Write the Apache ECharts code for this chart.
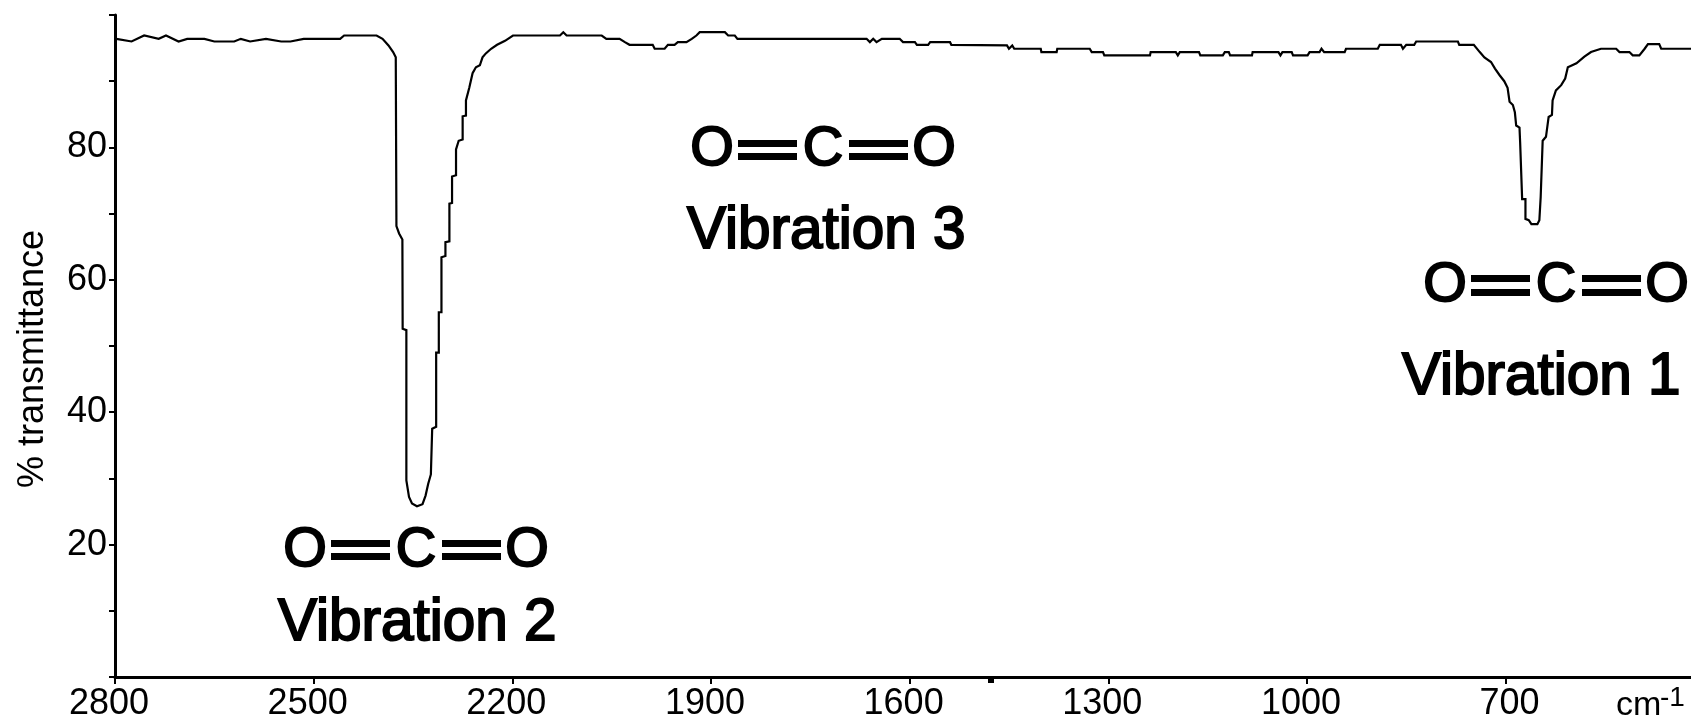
<!DOCTYPE html>
<html>
<head>
<meta charset="utf-8">
<style>
  html, body { margin: 0; padding: 0; background: #fff; }
  #main { width: 1691px; height: 718px; }
</style>
<script src="https://cdn.jsdelivr.net/npm/echarts@6/dist/echarts.min.js"></script>
</head>
<body>
<div id="main"></div>
<script>
// spectrum, high wavenumber first
var wavenumber = [
  2798, 2775, 2756, 2734, 2723, 2704, 2691, 2665, 2650, 2620, 2610, 2596, 2572, 2549, 2535, 2515, 2460, 2454, 2405, 2396,
  2387, 2380, 2376, 2375, 2371, 2366, 2365.6, 2360, 2360, 2357, 2356, 2351.5, 2344, 2335.6, 2331, 2327, 2323, 2321, 2315, 2315,
  2311, 2311, 2307, 2307, 2301, 2301, 2295, 2295, 2291, 2291, 2285, 2285, 2281, 2275, 2275, 2270, 2270, 2265, 2260, 2255,
  2249, 2245, 2240, 2232, 2223, 2211, 2199, 2128, 2123, 2118, 2065, 2058, 2038, 2030, 2023, 1988, 1985, 1970, 1965, 1955,
  1950, 1937, 1929, 1922, 1917, 1879, 1874, 1864, 1860, 1665, 1660, 1655, 1650, 1642, 1615, 1610, 1592, 1589, 1572, 1569,
  1539, 1537, 1453, 1450, 1445, 1442, 1402, 1401, 1378, 1377, 1328, 1325, 1308, 1306, 1237, 1236, 1198, 1195, 1192, 1163,
  1161, 1127, 1124, 1118, 1116, 1083, 1082, 1043, 1040, 1037, 1023, 1021, 999, 996, 981, 978, 974, 943, 941, 893,
  890, 858, 855, 850, 838, 835, 772, 770, 748, 739, 732, 722, 716, 709, 702, 697, 694, 689, 686, 684,
  679, 678, 675, 675, 670, 670, 665, 661, 652, 649, 647, 644, 644, 639, 635, 630, 629, 624, 616, 610,
  606, 593, 581, 571, 556, 533, 528, 513, 508, 498, 490, 485, 468, 465, 420
];
var transmittance = [
  96.4, 96.0, 96.9, 96.4, 96.9, 96.0, 96.4, 96.4, 96.0, 96.0, 96.4, 96.0, 96.4, 96.0, 96.0, 96.4, 96.4, 96.9, 96.9, 96.4,
  95.4, 94.4, 93.6, 68.1, 67.0, 66.1, 52.6, 52.4, 29.7, 29.5, 27.2, 26.2, 25.8, 26.1, 27.4, 29.2, 30.6, 37.5, 37.8, 49.0,
  49.0, 55.1, 55.1, 63.4, 63.6, 65.7, 65.8, 71.5, 71.6, 75.6, 75.8, 79.7, 81.0, 81.2, 84.7, 84.8, 87.1, 89.0, 91.2, 92.1,
  92.4, 93.6, 94.2, 94.9, 95.5, 96.1, 96.9, 96.9, 97.4, 96.9, 96.9, 96.4, 96.4, 95.9, 95.5, 95.5, 94.9, 94.9, 95.5, 95.5,
  95.9, 95.9, 96.4, 96.9, 97.4, 97.4, 96.9, 96.9, 96.4, 96.4, 95.9, 96.4, 95.9, 96.4, 96.4, 95.9, 95.9, 95.5, 95.5, 95.9,
  95.9, 95.5, 95.4, 94.9, 95.4, 94.9, 94.9, 94.4, 94.4, 94.9, 94.9, 94.4, 94.4, 93.9, 93.9, 94.4, 94.4, 93.9, 94.4, 94.4,
  93.9, 93.9, 94.4, 94.4, 93.9, 93.9, 94.4, 94.4, 93.9, 94.4, 94.4, 93.9, 93.9, 94.4, 94.4, 94.9, 94.4, 94.4, 94.9, 94.9,
  95.5, 95.5, 94.9, 95.5, 95.5, 96.0, 96.0, 95.5, 95.5, 94.4, 93.6, 92.9, 91.9, 90.9, 90.0, 89.0, 86.9, 86.4, 85.3, 83.3,
  83.0, 80.7, 80.5, 72.2, 72.2, 69.2, 69.0, 68.4, 68.4, 69.0, 72.5, 72.6, 81.0, 81.6, 84.6, 84.9, 87.1, 88.6, 89.4, 90.4,
  92.1, 92.7, 93.7, 94.4, 94.9, 94.9, 94.4, 94.4, 93.9, 93.9, 94.9, 95.6, 95.6, 94.9, 94.9
];
var xTicks = [2800, 2500, 2200, 1900, 1600, 1300, 1000, 700];
var yLabels = [20, 40, 60, 80];
var vibrationNames = ['Vibration 1', 'Vibration 2', 'Vibration 3'];

var font = '"Liberation Sans", Arial, sans-serif';

var chart = echarts.init(document.getElementById('main'), null, { renderer: 'canvas' });

// O=C=O with a long double bond, the "=" glyph is too short for this
function molecule(cx, cy, barY1, barY2) {
  var items = [];
  [cx - 111, cx, cx + 111].forEach(function (x, i) {
    items.push({
      type: 'text',
      style: {
        text: i === 1 ? 'C' : 'O', x: x, y: cy, align: 'center', verticalAlign: 'middle',
        font: '56px ' + font, fill: '#000', stroke: '#000', lineWidth: 2
      }
    });
  });
  [cx - 85, cx + 26].forEach(function (x) {
    items.push({ type: 'rect', shape: { x: x, y: barY1, width: 59, height: 7 }, style: { fill: '#000' } });
    items.push({ type: 'rect', shape: { x: x, y: barY2, width: 59, height: 7 }, style: { fill: '#000' } });
  });
  return items;
}

function vibrationLabel(name, x, y) {
  return {
    type: 'text',
    style: {
      text: name, x: x, y: y, align: 'left', verticalAlign: 'middle',
      font: '58.5px ' + font, fill: '#000', stroke: '#000', lineWidth: 2
    }
  };
}

var data = wavenumber.map(function (w, i) { return [w, transmittance[i]]; });

chart.setOption({
  backgroundColor: '#fff',
  animation: false,
  grid: { left: 115, right: 0, top: 15, bottom: 41, outerBoundsMode: 'none' },
  xAxis: {
    type: 'value',
    inverse: true,
    min: 420,
    max: 2800,
    splitLine: { show: false },
    axisLine: { show: true, onZero: false, lineStyle: { color: '#000', width: 3 } },
    axisTick: { show: true, customValues: xTicks, length: 7, lineStyle: { color: '#000', width: 2 } },
    axisLabel: {
      customValues: xTicks,
      margin: 9,
      color: '#000',
      fontFamily: font,
      fontSize: 36,
      formatter: function (v) { return v === 700 ? '{b|' + v + '}' : '{a|' + v + '}'; },
      rich: {
        a: { fontFamily: font, fontSize: 36, color: '#000', padding: [0, 12, 0, 0] },
        b: { fontFamily: font, fontSize: 36, color: '#000', padding: [0, 0, 0, 8] }
      }
    }
  },
  yAxis: {
    type: 'value',
    min: 0,
    max: 100,
    interval: 10,
    name: '% transmittance',
    nameLocation: 'middle',
    nameGap: 64,
    nameTextStyle: { fontFamily: font, fontSize: 36, color: '#000', padding: [0, 26, 0, 0] },
    splitLine: { show: false },
    axisLine: { show: true, onZero: false, lineStyle: { color: '#000', width: 3 } },
    axisTick: { show: true, length: 6, lineStyle: { color: '#000', width: 2 } },
    axisLabel: {
      margin: 8,
      padding: [4, 0, 0, 0],
      color: '#000',
      fontFamily: font,
      fontSize: 36,
      formatter: function (v) { return yLabels.indexOf(v) >= 0 ? String(v) : ''; }
    }
  },
  series: [{
    type: 'line',
    data: data,
    showSymbol: false,
    smooth: false,
    lineStyle: { color: '#000', width: 2.2, join: 'miter' }
  }],
  graphic: [
    { type: 'group', children: molecule(416, 551, 540, 553) },
    { type: 'group', children: molecule(823, 150, 140, 153) },
    { type: 'group', children: molecule(1556, 286, 275, 289) },
    vibrationLabel(vibrationNames[1], 278, 624),
    vibrationLabel(vibrationNames[2], 687, 232),
    vibrationLabel(vibrationNames[0], 1402, 378),
    // stray little mark on the axis in the original
    { type: 'rect', shape: { x: 988, y: 678, width: 6, height: 5 }, style: { fill: '#000' } },
    { type: 'text', style: { text: 'cm', x: 1616, y: 723, align: 'left', verticalAlign: 'bottom', font: '34px ' + font, fill: '#000' } },
    { type: 'text', style: { text: '-1', x: 1660, y: 712, align: 'left', verticalAlign: 'bottom', font: '28px ' + font, fill: '#000' } }
  ]
});
</script>
</body>
</html>
